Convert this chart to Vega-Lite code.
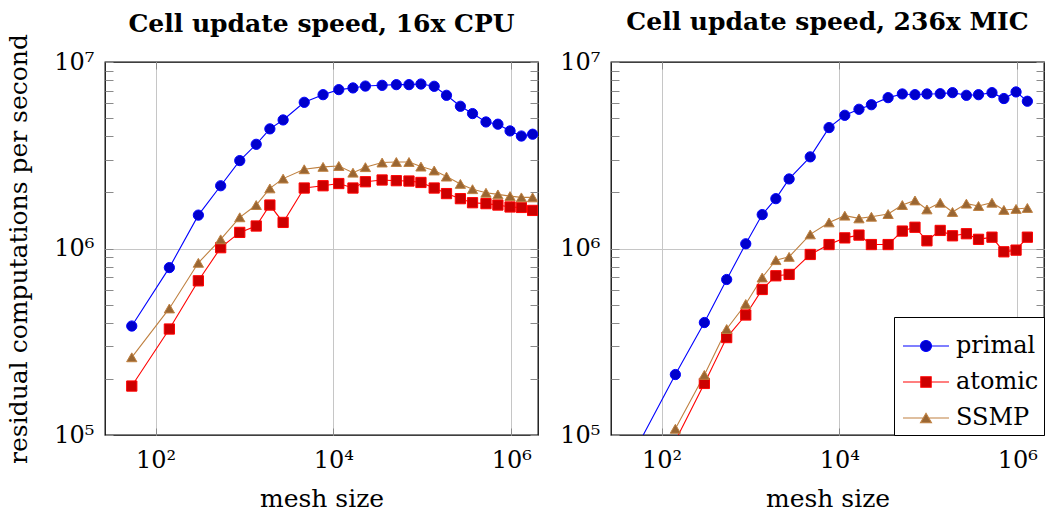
{
  "$schema": "https://vega.github.io/schema/vega-lite/v6.json",
  "padding": {"left": 6, "top": 9, "right": 0, "bottom": 0},
  "background": "white",
  "config": {
    "font": "DejaVu Serif",
    "view": {"stroke": "#000", "strokeWidth": 1.3},
    "title": {"font": "DejaVu Serif", "fontSize": 25, "fontWeight": "bold", "color": "#000", "anchor": "middle", "frame": "group", "offset": -3},
    "axis": {"labelFont": "DejaVu Serif", "titleFont": "DejaVu Serif", "labelColor": "#000", "titleColor": "#000", "titleFontWeight": "normal", "domain": false, "labelOverlap": false, "labelFlush": false}
  },
  "data": {
    "values": [
      {"panel": "cpu", "series": "primal", "mesh": 54, "rate": 384000},
      {"panel": "cpu", "series": "primal", "mesh": 143, "rate": 790000},
      {"panel": "cpu", "series": "primal", "mesh": 303, "rate": 1510000},
      {"panel": "cpu", "series": "primal", "mesh": 540, "rate": 2170000},
      {"panel": "cpu", "series": "primal", "mesh": 885, "rate": 2960000},
      {"panel": "cpu", "series": "primal", "mesh": 1355, "rate": 3620000},
      {"panel": "cpu", "series": "primal", "mesh": 1930, "rate": 4380000},
      {"panel": "cpu", "series": "primal", "mesh": 2720, "rate": 4890000},
      {"panel": "cpu", "series": "primal", "mesh": 4700, "rate": 6080000},
      {"panel": "cpu", "series": "primal", "mesh": 7650, "rate": 6680000},
      {"panel": "cpu", "series": "primal", "mesh": 11500, "rate": 7110000},
      {"panel": "cpu", "series": "primal", "mesh": 16600, "rate": 7260000},
      {"panel": "cpu", "series": "primal", "mesh": 22900, "rate": 7430000},
      {"panel": "cpu", "series": "primal", "mesh": 35300, "rate": 7500000},
      {"panel": "cpu", "series": "primal", "mesh": 51000, "rate": 7560000},
      {"panel": "cpu", "series": "primal", "mesh": 70800, "rate": 7560000},
      {"panel": "cpu", "series": "primal", "mesh": 96500, "rate": 7620000},
      {"panel": "cpu", "series": "primal", "mesh": 136000, "rate": 7410000},
      {"panel": "cpu", "series": "primal", "mesh": 187000, "rate": 6630000},
      {"panel": "cpu", "series": "primal", "mesh": 268000, "rate": 5790000},
      {"panel": "cpu", "series": "primal", "mesh": 367000, "rate": 5290000},
      {"panel": "cpu", "series": "primal", "mesh": 520000, "rate": 4770000},
      {"panel": "cpu", "series": "primal", "mesh": 708000, "rate": 4640000},
      {"panel": "cpu", "series": "primal", "mesh": 970000, "rate": 4270000},
      {"panel": "cpu", "series": "primal", "mesh": 1300000, "rate": 4010000},
      {"panel": "cpu", "series": "primal", "mesh": 1740000, "rate": 4100000},

      {"panel": "cpu", "series": "atomic", "mesh": 54, "rate": 183000},
      {"panel": "cpu", "series": "atomic", "mesh": 143, "rate": 370000},
      {"panel": "cpu", "series": "atomic", "mesh": 303, "rate": 671000},
      {"panel": "cpu", "series": "atomic", "mesh": 540, "rate": 1010000},
      {"panel": "cpu", "series": "atomic", "mesh": 885, "rate": 1220000},
      {"panel": "cpu", "series": "atomic", "mesh": 1355, "rate": 1320000},
      {"panel": "cpu", "series": "atomic", "mesh": 1930, "rate": 1710000},
      {"panel": "cpu", "series": "atomic", "mesh": 2720, "rate": 1380000},
      {"panel": "cpu", "series": "atomic", "mesh": 4700, "rate": 2110000},
      {"panel": "cpu", "series": "atomic", "mesh": 7650, "rate": 2170000},
      {"panel": "cpu", "series": "atomic", "mesh": 11500, "rate": 2230000},
      {"panel": "cpu", "series": "atomic", "mesh": 16600, "rate": 2110000},
      {"panel": "cpu", "series": "atomic", "mesh": 22900, "rate": 2280000},
      {"panel": "cpu", "series": "atomic", "mesh": 35300, "rate": 2330000},
      {"panel": "cpu", "series": "atomic", "mesh": 51000, "rate": 2310000},
      {"panel": "cpu", "series": "atomic", "mesh": 70800, "rate": 2300000},
      {"panel": "cpu", "series": "atomic", "mesh": 96500, "rate": 2260000},
      {"panel": "cpu", "series": "atomic", "mesh": 136000, "rate": 2110000},
      {"panel": "cpu", "series": "atomic", "mesh": 187000, "rate": 1970000},
      {"panel": "cpu", "series": "atomic", "mesh": 268000, "rate": 1850000},
      {"panel": "cpu", "series": "atomic", "mesh": 367000, "rate": 1760000},
      {"panel": "cpu", "series": "atomic", "mesh": 520000, "rate": 1740000},
      {"panel": "cpu", "series": "atomic", "mesh": 708000, "rate": 1710000},
      {"panel": "cpu", "series": "atomic", "mesh": 970000, "rate": 1670000},
      {"panel": "cpu", "series": "atomic", "mesh": 1300000, "rate": 1660000},
      {"panel": "cpu", "series": "atomic", "mesh": 1740000, "rate": 1600000},

      {"panel": "cpu", "series": "SSMP", "mesh": 54, "rate": 261000},
      {"panel": "cpu", "series": "SSMP", "mesh": 143, "rate": 477000},
      {"panel": "cpu", "series": "SSMP", "mesh": 303, "rate": 838000},
      {"panel": "cpu", "series": "SSMP", "mesh": 540, "rate": 1120000},
      {"panel": "cpu", "series": "SSMP", "mesh": 885, "rate": 1470000},
      {"panel": "cpu", "series": "SSMP", "mesh": 1355, "rate": 1710000},
      {"panel": "cpu", "series": "SSMP", "mesh": 1930, "rate": 2100000},
      {"panel": "cpu", "series": "SSMP", "mesh": 2720, "rate": 2370000},
      {"panel": "cpu", "series": "SSMP", "mesh": 4700, "rate": 2660000},
      {"panel": "cpu", "series": "SSMP", "mesh": 7650, "rate": 2740000},
      {"panel": "cpu", "series": "SSMP", "mesh": 11500, "rate": 2770000},
      {"panel": "cpu", "series": "SSMP", "mesh": 16600, "rate": 2550000},
      {"panel": "cpu", "series": "SSMP", "mesh": 22900, "rate": 2730000},
      {"panel": "cpu", "series": "SSMP", "mesh": 35300, "rate": 2890000},
      {"panel": "cpu", "series": "SSMP", "mesh": 51000, "rate": 2910000},
      {"panel": "cpu", "series": "SSMP", "mesh": 70800, "rate": 2910000},
      {"panel": "cpu", "series": "SSMP", "mesh": 96500, "rate": 2750000},
      {"panel": "cpu", "series": "SSMP", "mesh": 136000, "rate": 2620000},
      {"panel": "cpu", "series": "SSMP", "mesh": 187000, "rate": 2430000},
      {"panel": "cpu", "series": "SSMP", "mesh": 268000, "rate": 2220000},
      {"panel": "cpu", "series": "SSMP", "mesh": 367000, "rate": 2080000},
      {"panel": "cpu", "series": "SSMP", "mesh": 520000, "rate": 1990000},
      {"panel": "cpu", "series": "SSMP", "mesh": 708000, "rate": 1950000},
      {"panel": "cpu", "series": "SSMP", "mesh": 970000, "rate": 1910000},
      {"panel": "cpu", "series": "SSMP", "mesh": 1300000, "rate": 1880000},
      {"panel": "cpu", "series": "SSMP", "mesh": 1740000, "rate": 1880000},

      {"panel": "mic", "series": "primal", "mesh": 54, "rate": 88000},
      {"panel": "mic", "series": "primal", "mesh": 143, "rate": 211000},
      {"panel": "mic", "series": "primal", "mesh": 303, "rate": 401000},
      {"panel": "mic", "series": "primal", "mesh": 540, "rate": 682000},
      {"panel": "mic", "series": "primal", "mesh": 885, "rate": 1060000},
      {"panel": "mic", "series": "primal", "mesh": 1355, "rate": 1520000},
      {"panel": "mic", "series": "primal", "mesh": 1930, "rate": 1850000},
      {"panel": "mic", "series": "primal", "mesh": 2720, "rate": 2360000},
      {"panel": "mic", "series": "primal", "mesh": 4700, "rate": 3100000},
      {"panel": "mic", "series": "primal", "mesh": 7650, "rate": 4450000},
      {"panel": "mic", "series": "primal", "mesh": 11500, "rate": 5180000},
      {"panel": "mic", "series": "primal", "mesh": 16600, "rate": 5580000},
      {"panel": "mic", "series": "primal", "mesh": 22900, "rate": 5900000},
      {"panel": "mic", "series": "primal", "mesh": 35300, "rate": 6440000},
      {"panel": "mic", "series": "primal", "mesh": 51000, "rate": 6740000},
      {"panel": "mic", "series": "primal", "mesh": 70800, "rate": 6680000},
      {"panel": "mic", "series": "primal", "mesh": 96500, "rate": 6740000},
      {"panel": "mic", "series": "primal", "mesh": 136000, "rate": 6760000},
      {"panel": "mic", "series": "primal", "mesh": 187000, "rate": 6850000},
      {"panel": "mic", "series": "primal", "mesh": 268000, "rate": 6630000},
      {"panel": "mic", "series": "primal", "mesh": 367000, "rate": 6680000},
      {"panel": "mic", "series": "primal", "mesh": 520000, "rate": 6850000},
      {"panel": "mic", "series": "primal", "mesh": 708000, "rate": 6370000},
      {"panel": "mic", "series": "primal", "mesh": 970000, "rate": 6910000},
      {"panel": "mic", "series": "primal", "mesh": 1300000, "rate": 6160000},

      {"panel": "mic", "series": "atomic", "mesh": 143, "rate": 93000},
      {"panel": "mic", "series": "atomic", "mesh": 303, "rate": 189000},
      {"panel": "mic", "series": "atomic", "mesh": 540, "rate": 333000},
      {"panel": "mic", "series": "atomic", "mesh": 885, "rate": 440000},
      {"panel": "mic", "series": "atomic", "mesh": 1355, "rate": 603000},
      {"panel": "mic", "series": "atomic", "mesh": 1930, "rate": 714000},
      {"panel": "mic", "series": "atomic", "mesh": 2720, "rate": 726000},
      {"panel": "mic", "series": "atomic", "mesh": 4700, "rate": 929000},
      {"panel": "mic", "series": "atomic", "mesh": 7650, "rate": 1050000},
      {"panel": "mic", "series": "atomic", "mesh": 11500, "rate": 1140000},
      {"panel": "mic", "series": "atomic", "mesh": 16600, "rate": 1180000},
      {"panel": "mic", "series": "atomic", "mesh": 22900, "rate": 1050000},
      {"panel": "mic", "series": "atomic", "mesh": 35300, "rate": 1050000},
      {"panel": "mic", "series": "atomic", "mesh": 51000, "rate": 1240000},
      {"panel": "mic", "series": "atomic", "mesh": 70800, "rate": 1300000},
      {"panel": "mic", "series": "atomic", "mesh": 96500, "rate": 1100000},
      {"panel": "mic", "series": "atomic", "mesh": 136000, "rate": 1250000},
      {"panel": "mic", "series": "atomic", "mesh": 187000, "rate": 1170000},
      {"panel": "mic", "series": "atomic", "mesh": 268000, "rate": 1200000},
      {"panel": "mic", "series": "atomic", "mesh": 367000, "rate": 1120000},
      {"panel": "mic", "series": "atomic", "mesh": 520000, "rate": 1150000},
      {"panel": "mic", "series": "atomic", "mesh": 708000, "rate": 960000},
      {"panel": "mic", "series": "atomic", "mesh": 970000, "rate": 980000},
      {"panel": "mic", "series": "atomic", "mesh": 1300000, "rate": 1150000},

      {"panel": "mic", "series": "SSMP", "mesh": 143, "rate": 108000},
      {"panel": "mic", "series": "SSMP", "mesh": 303, "rate": 210000},
      {"panel": "mic", "series": "SSMP", "mesh": 540, "rate": 370000},
      {"panel": "mic", "series": "SSMP", "mesh": 885, "rate": 504000},
      {"panel": "mic", "series": "SSMP", "mesh": 1355, "rate": 699000},
      {"panel": "mic", "series": "SSMP", "mesh": 1930, "rate": 866000},
      {"panel": "mic", "series": "SSMP", "mesh": 2720, "rate": 902000},
      {"panel": "mic", "series": "SSMP", "mesh": 4700, "rate": 1190000},
      {"panel": "mic", "series": "SSMP", "mesh": 7650, "rate": 1380000},
      {"panel": "mic", "series": "SSMP", "mesh": 11500, "rate": 1500000},
      {"panel": "mic", "series": "SSMP", "mesh": 16600, "rate": 1450000},
      {"panel": "mic", "series": "SSMP", "mesh": 22900, "rate": 1480000},
      {"panel": "mic", "series": "SSMP", "mesh": 35300, "rate": 1530000},
      {"panel": "mic", "series": "SSMP", "mesh": 51000, "rate": 1710000},
      {"panel": "mic", "series": "SSMP", "mesh": 70800, "rate": 1810000},
      {"panel": "mic", "series": "SSMP", "mesh": 96500, "rate": 1620000},
      {"panel": "mic", "series": "SSMP", "mesh": 136000, "rate": 1760000},
      {"panel": "mic", "series": "SSMP", "mesh": 187000, "rate": 1570000},
      {"panel": "mic", "series": "SSMP", "mesh": 268000, "rate": 1740000},
      {"panel": "mic", "series": "SSMP", "mesh": 367000, "rate": 1690000},
      {"panel": "mic", "series": "SSMP", "mesh": 520000, "rate": 1760000},
      {"panel": "mic", "series": "SSMP", "mesh": 708000, "rate": 1610000},
      {"panel": "mic", "series": "SSMP", "mesh": 970000, "rate": 1630000},
      {"panel": "mic", "series": "SSMP", "mesh": 1300000, "rate": 1650000}
    ]
  },
  "bounds": "flush",
  "spacing": 73,
  "resolve": {"legend": {"color": "independent", "fill": "independent", "stroke": "independent", "shape": "independent"}},
  "hconcat": [
    {
      "width": 433,
      "height": 373,
      "title": {"text": "Cell update speed, 16x CPU"},
      "transform": [{"filter": "datum.panel === 'cpu'"}],
      "resolve": {"axis": {"x": "independent", "y": "independent"}},
      "layer": [
        {
          "mark": {"type": "line", "strokeWidth": 1.1, "clip": true},
          "encoding": {
            "x": {"field": "mesh", "type": "quantitative", "scale": {"type": "log", "domain": [27, 2000000], "nice": false},
              "axis": {"orient": "bottom", "values": [100, 10000, 1000000], "labelExpr": "datum.value == 100 ? '10²' : datum.value == 10000 ? '10⁴' : '10⁶'",
                "grid": true, "gridColor": "#c6c6c6", "gridWidth": 1, "tickSize": -7, "tickColor": "#8a8a8a", "tickWidth": 1,
                "labelFontSize": 24, "labelPadding": 20, "title": "mesh size", "titleFontSize": 25, "titlePadding": 14}},
            "y": {"field": "rate", "type": "quantitative", "scale": {"type": "log", "domain": [100000, 10000000], "nice": false},
              "axis": {"orient": "left", "values": [100000, 200000, 300000, 400000, 500000, 600000, 700000, 800000, 900000, 1000000, 2000000, 3000000, 4000000, 5000000, 6000000, 7000000, 8000000, 9000000, 10000000],
                "labelExpr": "datum.value == 100000 ? '10⁵' : datum.value == 1000000 ? '10⁶' : datum.value == 10000000 ? '10⁷' : ''",
                "grid": true, "gridColor": "#c6c6c6", "gridWidth": 1,
                "gridOpacity": {"condition": {"test": "datum.value == 1000000", "value": 1}, "value": 0},
                "tickSize": -8, "tickColor": "#8a8a8a", "tickWidth": 1,
                "labelFontSize": 24, "labelPadding": 19, "title": "residual computations per second", "titleFontSize": 25, "titlePadding": 22}},
            "color": {"field": "series", "type": "nominal", "scale": {"domain": ["SSMP", "atomic", "primal"], "range": ["#bf8040", "#ff0000", "#0000ff"]}, "legend": null}
          }
        },
        {
          "mark": {"type": "point", "filled": true, "opacity": 1, "strokeWidth": 1, "size": 105, "clip": true},
          "encoding": {
            "x": {"field": "mesh", "type": "quantitative", "scale": {"type": "log", "domain": [27, 2000000], "nice": false},
              "axis": {"orient": "top", "values": [100, 10000, 1000000], "labels": false, "grid": false, "tickSize": -7, "tickColor": "#8a8a8a", "tickWidth": 1, "title": null}},
            "y": {"field": "rate", "type": "quantitative", "scale": {"type": "log", "domain": [100000, 10000000], "nice": false},
              "axis": {"orient": "right", "values": [100000, 200000, 300000, 400000, 500000, 600000, 700000, 800000, 900000, 1000000, 2000000, 3000000, 4000000, 5000000, 6000000, 7000000, 8000000, 9000000, 10000000],
                "labels": false, "grid": false, "tickSize": -8, "tickColor": "#8a8a8a", "tickWidth": 1, "title": null}},
            "fill": {"field": "series", "type": "nominal", "scale": {"domain": ["primal", "atomic", "SSMP"], "range": ["#0000cc", "#cc0000", "#996633"]}, "legend": null},
            "stroke": {"field": "series", "type": "nominal", "scale": {"domain": ["primal", "atomic", "SSMP"], "range": ["#0000ff", "#ff0000", "#bf8040"]}, "legend": null},
            "shape": {"field": "series", "type": "nominal", "scale": {"domain": ["SSMP", "atomic", "primal"], "range": ["triangle-up", "square", "circle"]}, "legend": null}
          }
        }
      ]
    },
    {
      "width": 433,
      "height": 373,
      "title": {"text": "Cell update speed, 236x MIC", "dy": -18},
      "transform": [{"filter": "datum.panel === 'mic'"}],
      "resolve": {"axis": {"x": "independent", "y": "independent"}},
      "layer": [
        {
          "mark": {"type": "line", "strokeWidth": 1.1, "clip": true},
          "encoding": {
            "x": {"field": "mesh", "type": "quantitative", "scale": {"type": "log", "domain": [27, 2000000], "nice": false},
              "axis": {"orient": "bottom", "values": [100, 10000, 1000000], "labelExpr": "datum.value == 100 ? '10²' : datum.value == 10000 ? '10⁴' : '10⁶'",
                "grid": true, "gridColor": "#c6c6c6", "gridWidth": 1, "tickSize": -7, "tickColor": "#8a8a8a", "tickWidth": 1,
                "labelFontSize": 24, "labelPadding": 20, "title": "mesh size", "titleFontSize": 25, "titlePadding": 14}},
            "y": {"field": "rate", "type": "quantitative", "scale": {"type": "log", "domain": [100000, 10000000], "nice": false},
              "axis": {"orient": "left", "values": [100000, 200000, 300000, 400000, 500000, 600000, 700000, 800000, 900000, 1000000, 2000000, 3000000, 4000000, 5000000, 6000000, 7000000, 8000000, 9000000, 10000000],
                "labelExpr": "datum.value == 100000 ? '10⁵' : datum.value == 1000000 ? '10⁶' : datum.value == 10000000 ? '10⁷' : ''",
                "grid": true, "gridColor": "#c6c6c6", "gridWidth": 1,
                "gridOpacity": {"condition": {"test": "datum.value == 1000000", "value": 1}, "value": 0},
                "tickSize": -8, "tickColor": "#8a8a8a", "tickWidth": 1,
                "labelFontSize": 24, "labelPadding": 19, "title": null}},
            "color": {"field": "series", "type": "nominal", "scale": {"domain": ["SSMP", "atomic", "primal"], "range": ["#bf8040", "#ff0000", "#0000ff"]}, "legend": null}
          }
        },
        {
          "mark": {"type": "point", "filled": true, "opacity": 1, "strokeWidth": 1, "size": 105, "clip": true},
          "encoding": {
            "x": {"field": "mesh", "type": "quantitative", "scale": {"type": "log", "domain": [27, 2000000], "nice": false},
              "axis": {"orient": "top", "values": [100, 10000, 1000000], "labels": false, "grid": false, "tickSize": -7, "tickColor": "#8a8a8a", "tickWidth": 1, "title": null}},
            "y": {"field": "rate", "type": "quantitative", "scale": {"type": "log", "domain": [100000, 10000000], "nice": false},
              "axis": {"orient": "right", "values": [100000, 200000, 300000, 400000, 500000, 600000, 700000, 800000, 900000, 1000000, 2000000, 3000000, 4000000, 5000000, 6000000, 7000000, 8000000, 9000000, 10000000],
                "labels": false, "grid": false, "tickSize": -8, "tickColor": "#8a8a8a", "tickWidth": 1, "title": null}},
            "fill": {"field": "series", "type": "nominal", "scale": {"domain": ["primal", "atomic", "SSMP"], "range": ["#0000cc", "#cc0000", "#996633"]},
              "legend": {"title": null, "orient": "bottom-right", "offset": 0, "padding": 5, "fillColor": "#ffffff", "strokeColor": "#000000",
                "labelFont": "DejaVu Serif", "labelFontSize": 24, "labelColor": "#000", "labelOffset": 6, "rowPadding": 0, "symbolOffset": 3,
                "symbolSize": 2116, "symbolStrokeWidth": 1.1, "symbolOpacity": 1,
                "symbolType": {"expr": "datum.value === 'primal' ? 'M-1,0H-0.24M0.24,0H1M0.24,0A0.24,0.24,0,1,1,-0.24,0A0.24,0.24,0,1,1,0.24,0Z' : datum.value === 'atomic' ? 'M-1,0H-0.226M0.226,0H1M-0.226,-0.226H0.226V0.226H-0.226Z' : 'M-1,0H-0.12M0.12,0H1M0,-0.207L0.239,0.207H-0.239Z'"}}},
            "stroke": {"field": "series", "type": "nominal", "scale": {"domain": ["primal", "atomic", "SSMP"], "range": ["#0000ff", "#ff0000", "#bf8040"]}},
            "shape": {"field": "series", "type": "nominal", "scale": {"domain": ["SSMP", "atomic", "primal"], "range": ["triangle-up", "square", "circle"]}, "legend": null}
          }
        }
      ]
    }
  ]
}
